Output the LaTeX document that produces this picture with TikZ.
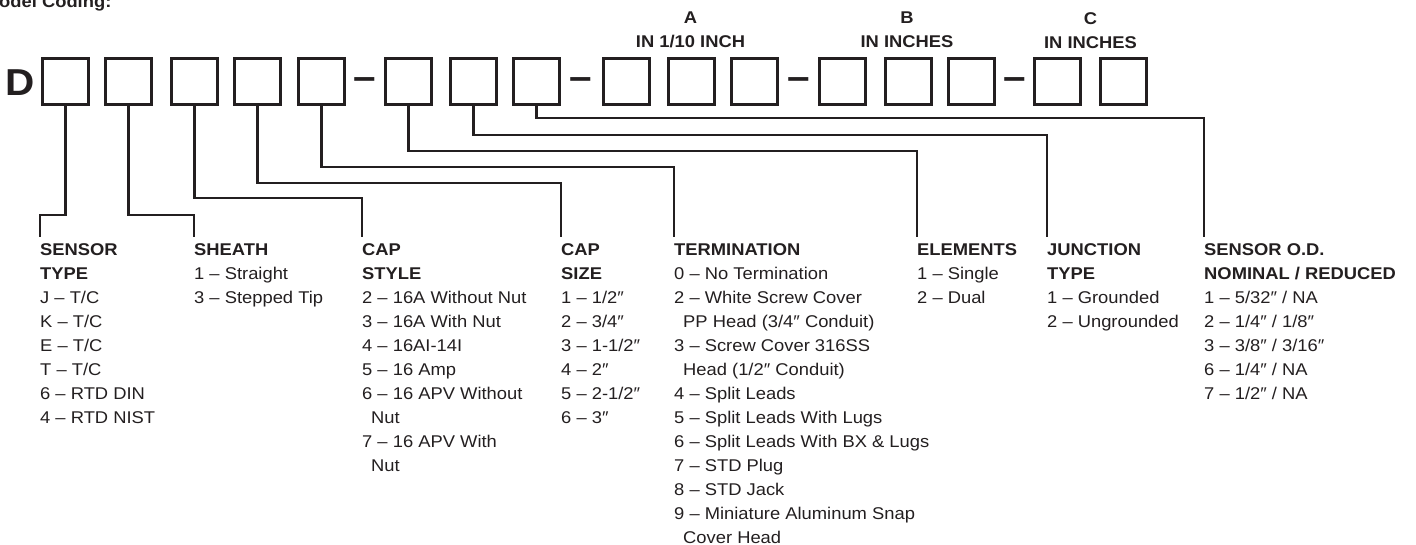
\documentclass[tikz,border=0pt]{standalone}
\usepackage{fontspec}
\setmainfont[FakeStretch=1.08]{Liberation Sans}
\definecolor{ink}{RGB}{35,31,32}
\tikzset{digit/.style={draw=ink,line width=2.6pt,minimum size=46.4pt,inner sep=0pt},
  lead/.style={draw=ink,line width=2.6pt},
  col/.style={anchor=north west,align=left,inner xsep=0pt,inner ysep=6pt,text=ink,
    font=\fontsize{17}{24}\selectfont},
  grp/.style={anchor=north,align=center,inner sep=0pt,text=ink,
    font=\fontsize{17}{24}\selectfont\bfseries},
  big/.style={anchor=base,inner sep=0pt,text=ink,font=\fontsize{37.5}{40}\selectfont\bfseries}
}
\newcommand{\ind}{\hspace*{9pt}}

\begin{document}
\begin{tikzpicture}[x=1pt,y=-1pt]
\useasboundingbox (0,0) rectangle (1416,544);
\node[anchor=base west,inner sep=0pt,text=ink,font=\fontsize{17}{24}\selectfont\bfseries] (title) at (-1,7) {odel Coding:};
\node[big,anchor=base west] (d) at (5,95) {D};
% code boxes and dashes
\foreach \i/\x in {1/65.5,2/128.5,3/194.5,4/257.5,5/321.5,6/408.5,7/473.5,8/536.5,
  9/626.5,10/691.5,11/754.5,12/842.5,13/908.5,14/971.5,15/1057.5,16/1123.5}
  \node[digit] (b\i) at (\x,81.5) {};
\foreach \i/\x in {1/364.5,2/580.5,3/798.5,4/1014.5}
  \node[big] (dash\i) at (\x,89.5) {–};
\node[grp] (ga) at (690.5,12) {A\\IN 1/10 INCH};
\node[grp] (gb) at (907,12) {B\\IN INCHES};
\node[grp] (gc) at (1090.5,12) {C\\IN INCHES};
% option lists
\node[col] (typ) at (40,237) {\textbf{SENSOR}\\\textbf{TYPE}\\J – T/C\\K – T/C\\E – T/C\\T – T/C\\6 – RTD DIN\\4 – RTD NIST};
\node[col] (sheath) at (194,237) {\textbf{SHEATH}\\1 – Straight\\3 – Stepped Tip};
\node[col] (style) at (362,237) {\textbf{CAP}\\\textbf{STYLE}\\2 – 16A Without Nut\\3 – 16A With Nut\\4 – 16AI-14I\\5 – 16 Amp\\6 – 16 APV Without\\\ind Nut\\7 – 16 APV With\\\ind Nut};
\node[col] (size) at (561,237) {\textbf{CAP}\\\textbf{SIZE}\\1 – 1/2″\\2 – 3/4″\\3 – 1-1/2″\\4 – 2″\\5 – 2-1/2″\\6 – 3″};
\node[col] (term) at (674,237) {\textbf{TERMINATION}\\0 – No Termination\\2 – White Screw Cover\\\ind PP Head (3/4″ Conduit)\\3 – Screw Cover 316SS\\\ind Head (1/2″ Conduit)\\4 – Split Leads\\5 – Split Leads With Lugs\\6 – Split Leads With BX \& Lugs\\7 – STD Plug\\8 – STD Jack\\9 – Miniature Aluminum Snap\\\ind Cover Head};
\node[col] (elem) at (917,237) {\textbf{ELEMENTS}\\1 – Single\\2 – Dual};
\node[col] (junc) at (1047,237) {\textbf{JUNCTION}\\\textbf{TYPE}\\1 – Grounded\\2 – Ungrounded};
\node[col] (od) at (1204,237) {\textbf{SENSOR O.D.}\\\textbf{NOMINAL / REDUCED}\\1 – 5/32″ / NA\\2 – 1/4″ / 1/8″\\3 – 3/8″ / 3/16″\\6 – 1/4″ / NA\\7 – 1/2″ / NA};
% leads from boxes to lists
\foreach \b/\lvl/\c in {1/215/typ,2/215/sheath,3/198/style,4/183/size,
  5/167/term,6/151/elem,7/135/junc,8/118/od}
  \draw[lead] (b\b.south) -- (b\b.south |- 0,\lvl) -| (\c.north west);
\end{tikzpicture}
\end{document}
